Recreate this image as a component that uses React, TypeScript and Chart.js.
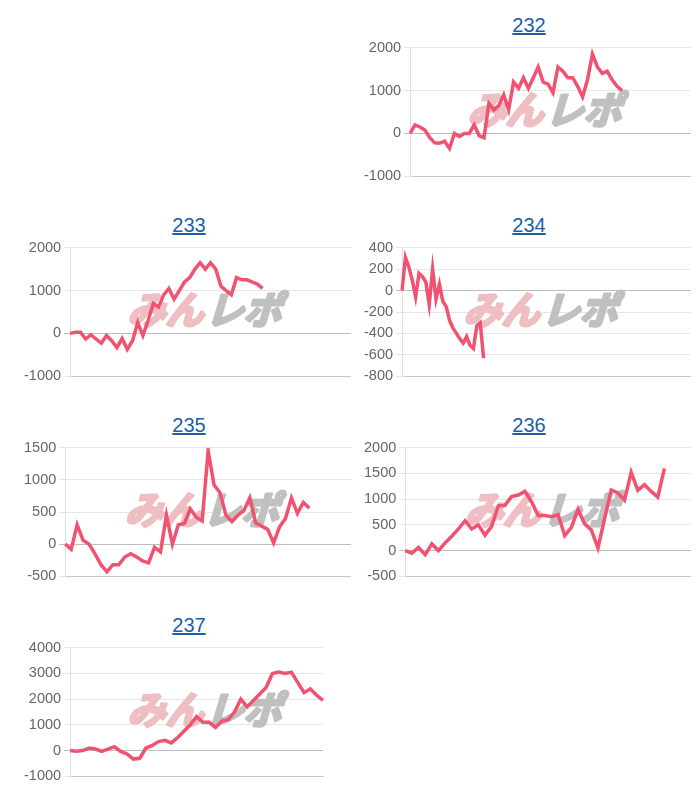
import React, { useEffect, useRef } from "react";
import { Chart, registerables } from "chart.js";

Chart.register(...registerables);

// Titles of each small chart
const titles = ["232", "233", "234", "235", "236", "237"];

// Number of x categories per chart
const categoryCounts = [58, 55, 86, 49, 44, 41];

// Series values
const values232 = [0, 200, 150, 80, -100, -220, -230, -180, -350, 0, -70, 0, 0, 200, -50, -100, 700, 550, 650, 900, 550, 1200, 1050, 1300, 1050, 1300, 1550, 1200, 1150, 950, 1550, 1450, 1300, 1300, 1100, 850, 1250, 1850, 1550, 1400, 1450, 1250, 1100, 1000];
const values233 = [0, 30, 30, -130, -30, -130, -230, -50, -170, -330, -120, -370, -170, 250, -50, 300, 700, 620, 900, 1050, 800, 1000, 1200, 1300, 1500, 1650, 1500, 1650, 1500, 1100, 1000, 900, 1300, 1250, 1250, 1200, 1150, 1050];
const values234 = [0, 310, 220, 100, -60, 160, 130, 80, -130, 200, -80, 60, -100, -150, -280, -350, -400, -450, -490, -430, -510, -540, -330, -300, -630];
const values235 = [0, -80, 300, 60, 0, -150, -320, -430, -320, -320, -200, -150, -200, -260, -290, -50, -120, 450, 0, 300, 320, 550, 420, 360, 1450, 920, 800, 450, 350, 450, 520, 720, 330, 280, 230, 20, 270, 400, 720, 480, 650, 560];
const values236 = [0, -50, 60, -80, 130, 0, 150, 280, 420, 580, 420, 500, 300, 470, 870, 880, 1050, 1080, 1150, 950, 680, 680, 660, 700, 290, 450, 800, 520, 400, 50, 620, 1180, 1120, 980, 1520, 1170, 1280, 1150, 1040, 1600];
const values237 = [0, -30, 0, 100, 60, -30, 60, 150, -30, -130, -330, -300, 100, 200, 350, 400, 300, 500, 750, 1000, 1320, 1100, 1100, 900, 1150, 1200, 1500, 2000, 1700, 1950, 2200, 2450, 3000, 3050, 3000, 3050, 2650, 2250, 2400, 2150, 1950];

// Y axis ranges: [min, max, step]
const yMins = [-1000, -1000, -800, -500, -500, -1000];
const yMaxs = [2000, 2000, 400, 1500, 2000, 4000];
const ySteps = [1000, 1000, 200, 500, 500, 1000];

// Extra right-side space of each plot (the last one is narrower)
const rightPads = [0, 0, 0, 0, 0, 28];

const seriesList = [values232, values233, values234, values235, values236, values237];

const LINE_COLOR = "rgb(240, 82, 112)";
const FONT = "Arial, 'Liberation Sans', sans-serif";

const watermarkPlugin = {
  id: "watermark",
  beforeDatasetsDraw(chart: any, _args: any, opts: any) {
    const { ctx, chartArea } = chart;
    const extra = (opts && opts.extra) || 0;
    const cx = (chartArea.left + chartArea.right + extra) / 2;
    const cy = (chartArea.top + chartArea.bottom) / 2;
    ctx.save();
    ctx.font = "bold 38px 'Noto Sans CJK JP', sans-serif";
    ctx.textBaseline = "middle";
    const a = "みん";
    const b = "レポ";
    const wa = ctx.measureText(a).width;
    const wb = ctx.measureText(b).width;
    const total = wa + wb + 2;
    ctx.translate(cx - total / 2 - 2, cy - 2);
    ctx.transform(1, 0, -0.3, 1, 0, 0);
    ctx.lineJoin = "round";
    ctx.lineWidth = 3;
    ctx.fillStyle = "rgb(238, 190, 194)";
    ctx.strokeStyle = "rgb(238, 190, 194)";
    ctx.strokeText(a, 0, 0);
    ctx.fillText(a, 0, 0);
    ctx.fillStyle = "rgb(192, 192, 192)";
    ctx.strokeStyle = "rgb(192, 192, 192)";
    ctx.strokeText(b, wa + 2, 0);
    ctx.fillText(b, wa + 2, 0);
    ctx.restore();
  },
};

function SmallChart({ idx }: { idx: number }) {
  const ref = useRef<HTMLCanvasElement | null>(null);
  useEffect(() => {
    if (!ref.current) return;
    const labels = Array.from({ length: categoryCounts[idx] }, (_, i) => String(i + 1));
    const chart = new Chart(ref.current, {
      type: "line",
      data: {
        labels,
        datasets: [
          {
            data: seriesList[idx],
            borderColor: LINE_COLOR,
            backgroundColor: LINE_COLOR,
            borderWidth: 3.5,
            pointRadius: 0,
            tension: 0,
            fill: false,
          },
        ],
      },
      options: {
        animation: false,
        responsive: true,
        maintainAspectRatio: false,
        layout: { padding: { left: 0, right: rightPads[idx], top: 0, bottom: 0 } },
        plugins: {
          legend: { display: false },
          tooltip: { enabled: false },
          title: { display: false },
          // @ts-ignore
          watermark: { extra: rightPads[idx] },
        },
        scales: {
          x: {
            ticks: { display: false },
            grid: { display: false },
            border: { display: true, color: "#c8c8c8", width: 1 },
          },
          y: {
            min: yMins[idx],
            max: yMaxs[idx],
            ticks: {
              stepSize: ySteps[idx],
              color: "#666",
              font: { family: FONT, size: 14.5 },
              padding: 3,
              callback: (v: any) => String(v),
            },
            grid: {
              color: (c: any) => (c.tick && c.tick.value === 0 ? "#bdbdbd" : "#e6e6e6"),
              lineWidth: 1,
              tickLength: 6,
            },
            border: { display: true, color: "#e0e0e0" },
          },
        },
      },
      plugins: [watermarkPlugin],
    });
    return () => chart.destroy();
  }, [idx]);

  return (
    <div style={{ width: 340, height: 200 }}>
      <div
        style={{
          height: 28,
          lineHeight: "34px",
          marginLeft: 13,
          width: 330,
          textAlign: "center",
          paddingLeft: 6,
          boxSizing: "border-box",
          fontFamily: FONT,
          fontSize: 20,
        }}
      >
        <a href="#" style={{ color: "#1a5fa8", textDecoration: "underline" }}>
          {titles[idx]}
        </a>
      </div>
      <div style={{ marginLeft: 13, width: 330, height: 152, position: "relative" }}>
        <canvas ref={ref} />
      </div>
    </div>
  );
}

export default function App() {
  return (
    <div style={{ display: "flex", flexWrap: "wrap", width: 680 }}>
      <div style={{ width: 340, height: 200 }} />
      {titles.map((_, i) => (
        <SmallChart key={i} idx={i} />
      ))}
    </div>
  );
}
